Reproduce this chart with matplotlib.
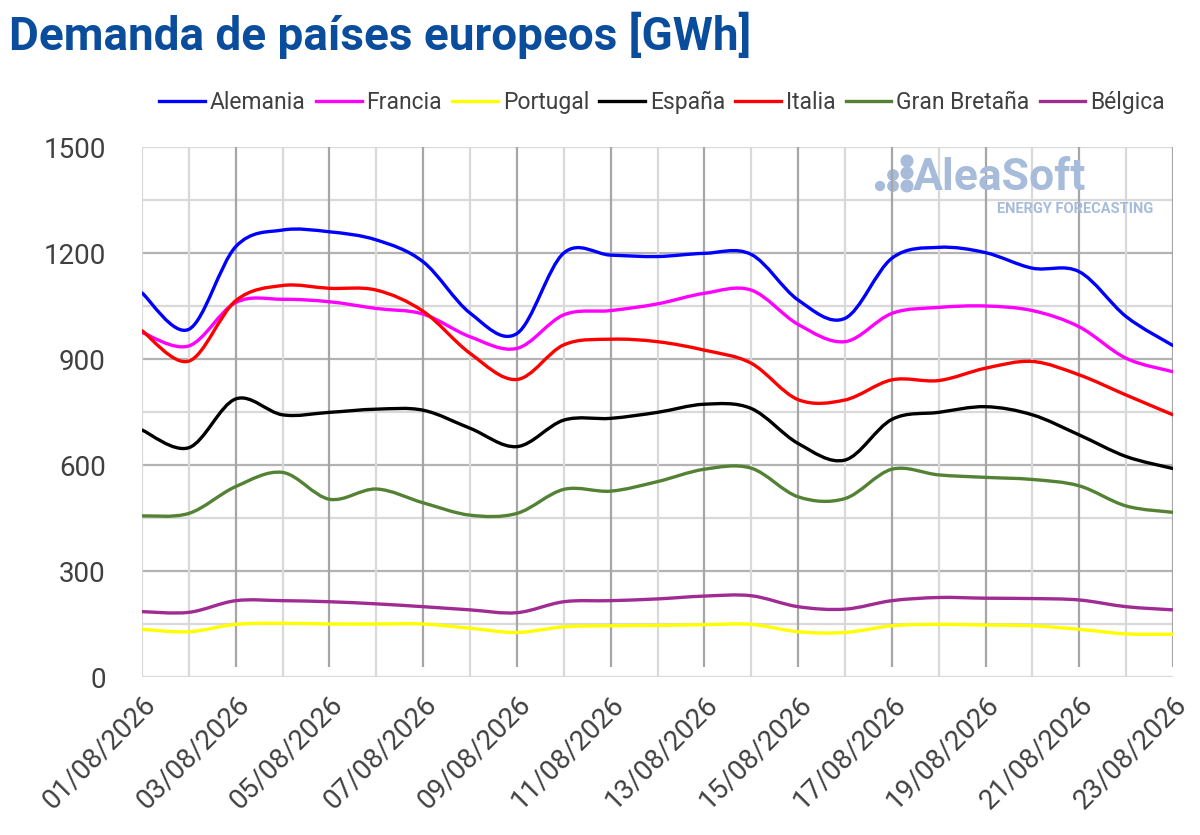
import numpy as np
import matplotlib
matplotlib.use('Agg')
import matplotlib.pyplot as plt
from matplotlib.path import Path
from matplotlib.patches import PathPatch
from matplotlib.lines import Line2D

fechas = ['%02d/08/2026' % d for d in range(1, 24)]

alemania = [1087, 984, 1218, 1265, 1260, 1237, 1175, 1030, 972, 1200, 1194, 1190,
            1199, 1196, 1067, 1015, 1185, 1216, 1201, 1157, 1147, 1020, 938]
francia = [975, 937, 1060, 1069, 1062, 1043, 1027, 963, 930, 1025, 1037, 1056,
           1086, 1095, 998, 949, 1029, 1046, 1050, 1037, 991, 902, 864]
portugal = [135, 128, 149, 152, 150, 150, 150, 138, 126, 142, 145, 146,
            148, 149, 128, 126, 145, 149, 147, 145, 135, 122, 121]
espana = [699, 649, 787, 742, 749, 758, 755, 704, 652, 727, 732, 749,
          772, 760, 661, 614, 729, 749, 765, 742, 685, 624, 590]
italia = [980, 894, 1065, 1108, 1100, 1095, 1035, 916, 842, 940, 956, 949,
          925, 888, 785, 784, 841, 839, 874, 893, 855, 798, 742]
gran_bretana = [456, 463, 539, 579, 503, 532, 493, 458, 463, 531, 526, 553,
                588, 591, 510, 505, 588, 572, 565, 559, 541, 484, 466]
belgica = [185, 183, 216, 216, 213, 207, 199, 190, 182, 213, 216, 221,
           229, 230, 199, 192, 216, 225, 223, 222, 218, 199, 190]

series = [
    ('Alemania', alemania, '#0000ff'),
    ('Francia', francia, '#ff00ff'),
    ('Portugal', portugal, '#ffff00'),
    ('España', espana, '#000000'),
    ('Italia', italia, '#ff0000'),
    ('Gran Bretaña', gran_bretana, '#548235'),
    ('Bélgica', belgica, '#a02b93'),
]

plt.rcParams['font.family'] = ['Roboto', 'DejaVu Sans']


def curva_suave(x, y):
    # bezier tipo catmull-rom, como las lineas suavizadas de Excel
    x = np.asarray(x, float)
    y = np.asarray(y, float)
    pts = np.column_stack([x, y])
    ext = np.vstack([pts[0], pts, pts[-1]])
    verts = [pts[0]]
    codes = [Path.MOVETO]
    for i in range(len(pts) - 1):
        p0, p1, p2, p3 = ext[i], ext[i + 1], ext[i + 2], ext[i + 3]
        c1 = p1 + (p2 - p0) / 6.0
        c2 = p2 - (p3 - p1) / 6.0
        verts += [c1, c2, p2]
        codes += [Path.CURVE4] * 3
    return Path(verts, codes)


fig = plt.figure(figsize=(12, 8.35), dpi=100)
ax = fig.add_axes([142 / 1200, 1 - 677 / 835, (1173 - 142) / 1200, (677 - 147) / 835])

x = np.arange(len(fechas))

# rejilla
for yy in range(0, 1501, 150):
    c = '#b3b3b3' if yy % 300 == 0 and 0 < yy < 1500 else '#d9d9d9'
    ax.axhline(yy, color=c, lw=1.6, zorder=1)
for i in x:
    if i % 2 == 0 and i > 0:
        ax.vlines(i, 28, 1500, color='#a6a6a6', lw=1.6, zorder=1)
    else:
        ax.axvline(i, color='#d9d9d9', lw=1.6, zorder=1)

handles = []
for nombre, vals, color in series:
    patch = PathPatch(curva_suave(x, vals), fill=False, edgecolor=color, lw=2.4,
                      zorder=3, capstyle='round', joinstyle='round')
    ax.add_patch(patch)
    handles.append(Line2D([], [], color=color, lw=2.4, label=nombre))

ax.set_xlim(0, len(fechas) - 1)
ax.set_ylim(0, 1500)
ax.set_yticks(range(0, 1501, 300))
ax.set_xticks(x[::2])
ax.set_xticklabels(fechas[::2], rotation=45, ha='right', va='top',
                   rotation_mode='anchor')
ax.tick_params(axis='both', length=0, labelsize=20, labelcolor='#404040')
ax.tick_params(axis='y', pad=26)
ax.tick_params(axis='x', pad=10)
for s in ax.spines.values():
    s.set_visible(False)

# marca de agua
fig.text(913 / 1200, 1 - 190 / 835, 'AleaSoft', fontsize=32, fontweight='bold',
         color='#a7bbdb', va='baseline', ha='left', zorder=0)
fig.text(1153 / 1200, 1 - 202 / 835, 'ENERGY FORECASTING', fontsize=10.5,
         fontweight='bold', color='#a7bbdb', va='top', ha='right', zorder=0)
dot_x = [880, 893, 893, 907, 907, 907]
dot_y = [186, 175, 186, 161, 173, 186]
dot_s = [40, 55, 55, 70, 70, 70]
fig.add_artist(plt.scatter(np.array(dot_x) / 1200, 1 - np.array(dot_y) / 835,
                           s=dot_s, color='#a7bbdb', transform=fig.transFigure,
                           zorder=0))

fig.text(9 / 1200, 1 - 35 / 835, 'Demanda de países europeos [GWh]', fontsize=33,
         fontweight='bold', color='#0b4d9d', va='center', ha='left')

fig.legend(handles=handles, loc='center', bbox_to_anchor=(662 / 1200, 1 - 102 / 835),
           ncol=7, frameon=False, fontsize=16.5, handlelength=2.0, handletextpad=0.2,
           columnspacing=0.45, labelcolor='#404040')

fig.savefig('out.png', dpi=100)
